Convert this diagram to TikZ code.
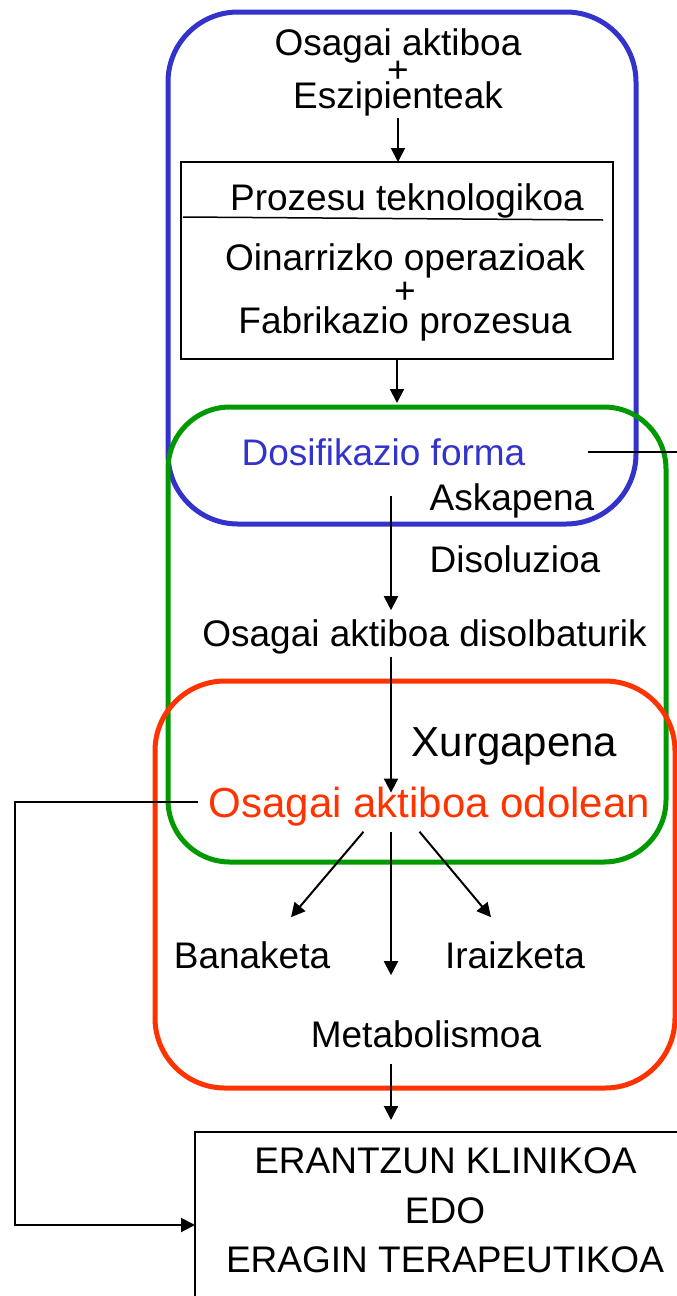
\documentclass[tikz,border=0pt]{standalone}
\usepackage{fontspec}
\setmainfont{Liberation Sans}
\usetikzlibrary{arrows.meta,positioning}
\definecolor{frameblue}{RGB}{51,51,204}
\definecolor{framegreen}{RGB}{0,153,0}
\definecolor{framered}{RGB}{255,51,0}
\tikzset{
    >={Triangle[length=14pt,width=14pt]},
    x=1pt, y=-1pt,
    plain text/.style={inner sep=0pt, outer sep=0pt, anchor=base, font=\fontsize{37}{44}\selectfont},
    big text/.style={plain text, font=\fontsize{42}{50}\selectfont},
    frame box/.style={draw, rounded corners=#1, line width=5pt, inner sep=0pt, outer sep=0pt},
    step box/.style={draw, line width=1.8pt, inner sep=0pt, outer sep=0pt},
    flow/.style={->, line width=2pt}
}
\begin{document}
\begin{tikzpicture}
    \useasboundingbox (0,0) rectangle (677,1296);
    \clip (0,0) rectangle (677,1296);
    % frames
    \node[frame box=70pt, frameblue, minimum width=468pt, minimum height=512pt] (blueframe) at (402,268) {};
    \node[frame box=62pt, framegreen, minimum width=498pt, minimum height=455pt] (greenframe) at (417,634.5) {};
    \node[frame box=70pt, framered, minimum width=520pt, minimum height=407pt] (redframe) at (415,884.5) {};
    % top part
    \node[plain text] (osagai) at (398,55) {Osagai aktiboa};
    \node[plain text, below=17pt of osagai.base, anchor=center] (plusa) {+};
    \node[plain text, below=53pt of osagai.base, anchor=base] (eszip) {Eszipienteak};
    \node[step box, minimum width=432pt, minimum height=197pt] (techbox) at (397,260.5) {};
    \node[plain text] (prozesu) at (407,210) {Prozesu teknologikoa};
    \draw[line width=1.5pt] (183,217) -- (603,220);
    \node[plain text] (oinarri) at (405,270) {Oinarrizko operazioak};
    \node[plain text, below=23pt of oinarri.base, anchor=center] (plusb) {+};
    \node[plain text, below=63pt of oinarri.base, anchor=base] (fabrik) {Fabrikazio prozesua};
    % middle part
    \node[plain text, text=frameblue] (dosif) at (383.5,465) {Dosifikazio forma};
    \node[plain text] (askap) at (512,510) {Askapena};
    \node[plain text] (disoluz) at (515,572) {Disoluzioa};
    \node[plain text] (disolv) at (424.5,646) {Osagai aktiboa disolbaturik};
    \node[big text] (xurga) at (514.5,756) {Xurgapena};
    \node[big text, text=framered] (odolean) at (429.5,817) {Osagai aktiboa odolean};
    % bottom part
    \node[plain text] (banaketa) at (252,968) {Banaketa};
    \node[plain text] (iraiz) at (515,968) {Iraizketa};
    \node[plain text] (metab) at (426,1047) {Metabolismoa};
    \node[step box, minimum width=510pt, minimum height=186pt] (resultbox) at (450,1225) {};
    \node[plain text] (erantzun) at (445.5,1173) {ERANTZUN KLINIKOA};
    \node[plain text] (edo) at (445,1223) {EDO};
    \node[plain text] (eragin) at (445,1272) {ERAGIN TERAPEUTIKOA};
    \coordinate (spine) at (391,0);
    \coordinate (feedx) at (15,1000);
    \coordinate (offright) at (700,0);
    \draw[flow, shorten <=2pt] (eszip.south) -- (eszip.south |- techbox.north);
    \draw[flow, shorten >=4pt] (techbox.south) -- (techbox.south |- greenframe.north);
    \draw[line width=2pt, shorten <=63pt] (dosif.east) -- (dosif.east -| offright);
    \draw[flow, shorten <=31pt, shorten >=9pt] (dosif.south -| spine) -- (disolv.north -| spine);
    \draw[flow, shorten <=3pt, shorten >=-6pt] (disolv.south -| spine) -- (odolean.north -| spine);
    \draw[flow, shorten <=6pt, shorten >=45pt] (odolean.south -| spine) -- (metab.north -| spine);
    \draw[flow] ([xshift=-66pt,yshift=-6pt]odolean.south) -- ([xshift=39pt,yshift=24pt]banaketa.north);
    \draw[flow] ([xshift=-10pt,yshift=-6pt]odolean.south) -- ([xshift=-24pt,yshift=24pt]iraiz.north);
    \draw[flow, shorten <=17pt, shorten >=12pt] (metab.south -| spine) -- (resultbox.north -| spine);
    \draw[flow, shorten <=11pt] ([yshift=4pt]odolean.west) -| (feedx) |- (resultbox.west);
\end{tikzpicture}
\end{document}
